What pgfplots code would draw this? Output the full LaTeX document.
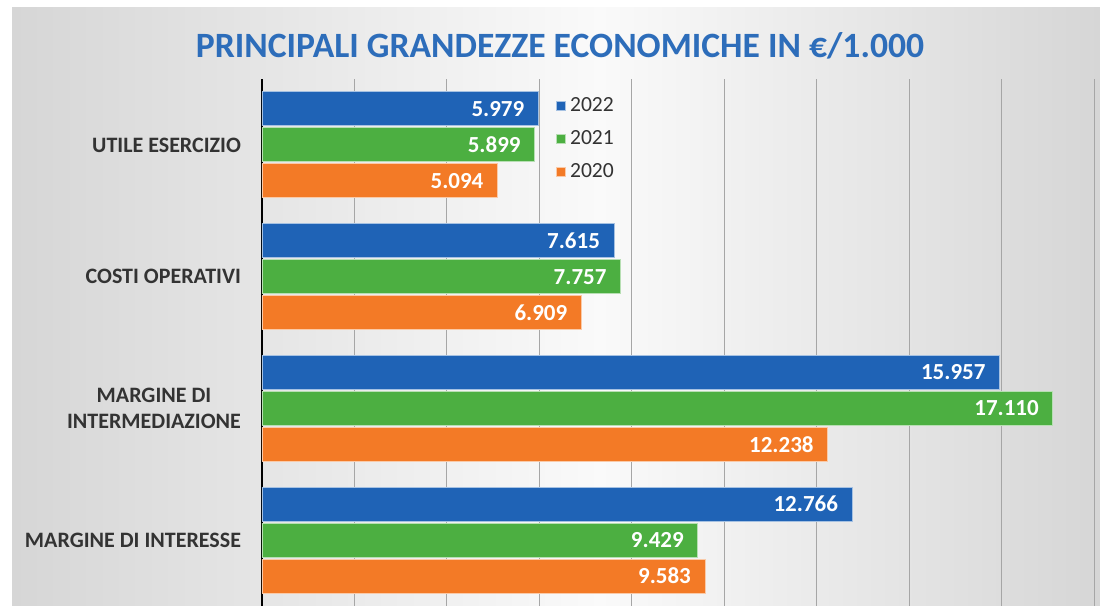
\documentclass[border=0pt]{standalone}
\usepackage{pgfplots}
\pgfplotsset{compat=1.18}
\usepackage{fontspec}
\setmainfont{Carlito}
\definecolor{cBlue}{HTML}{1F63B6}
\definecolor{cGreen}{HTML}{4CAF41}
\definecolor{cOrange}{HTML}{F37A26}
\definecolor{cTitle}{HTML}{2D6DBA}
\definecolor{cText}{HTML}{333333}
\definecolor{cEdge}{HTML}{D6D6D6}

\begin{document}
\begin{tikzpicture}
\useasboundingbox (0,0) rectangle (550pt,303pt);
\fill[white] (0,0) rectangle (550pt,303pt);
% background: grey at the sides, almost white in the middle
\shade[left color=cEdge, right color=black!2] (6pt,0) rectangle (300pt,299pt);
\shade[left color=black!2, right color=cEdge] (300pt,0) rectangle (550pt,299pt);
\node[font=\bfseries\fontsize{17.8}{20}\selectfont, text=cTitle] at (280pt,280pt)
    {PRINCIPALI GRANDEZZE ECONOMICHE IN €/1.000};
\begin{axis}[
    at={(131pt,0pt)}, anchor=south west,
    scale only axis,
    width=416pt, height=263.5pt,
    xbar,
    bar width=17pt,
    xmin=0, xmax=18000,
    ymin=-0.5, ymax=3.5,
    ytick={0,1,2,3},
    yticklabels={MARGINE DI INTERESSE, {MARGINE DI\\INTERMEDIAZIONE}, COSTI OPERATIVI, UTILE ESERCIZIO},
    xtick={0,2000,...,18000},
    xticklabels={},
    scaled x ticks=false,
    xmajorgrids,
    grid style={black!35, line width=0.5pt},
    axis lines=left,
    axis line style={-},
    x axis line style={draw=none},
    y axis line style={black, line width=1.1pt},
    major tick length=0pt,
    yticklabel style={font=\bfseries\fontsize{11}{13}\selectfont, text=cText, align=center, xshift=-7pt},
    legend style={at={(0.346,0.98)}, anchor=north west, draw=none, fill=none,
        font=\fontsize{10.8}{12}\selectfont, text=cText, row sep=4pt},
    legend cell align=left,
    legend image code/.code={\fill[#1] (0pt,-2.2pt) rectangle (4.5pt,2.3pt);},
    nodes near coords={\pgfmathprintnumber[fixed, precision=0, 1000 sep={.}, assume math mode=true]{\pgfplotspointmeta}},
    every node near coord/.append style={anchor=east, xshift=-3.5pt, text=white,
        font=\bfseries\fontsize{11.5}{13}\selectfont},
]
\addplot[fill=cBlue, draw=white!60!cBlue, line width=0.4pt, bar shift=18pt]
    coordinates {(5979,3) (7615,2) (15957,1) (12766,0)};
\addplot[fill=cGreen, draw=white!60!cGreen, line width=0.4pt, bar shift=0pt]
    coordinates {(5899,3) (7757,2) (17110,1) (9429,0)};
\addplot[fill=cOrange, draw=white!60!cOrange, line width=0.4pt, bar shift=-18pt]
    coordinates {(5094,3) (6909,2) (12238,1) (9583,0)};
\legend{2022, 2021, 2020}
\end{axis}
\end{tikzpicture}
\end{document}
